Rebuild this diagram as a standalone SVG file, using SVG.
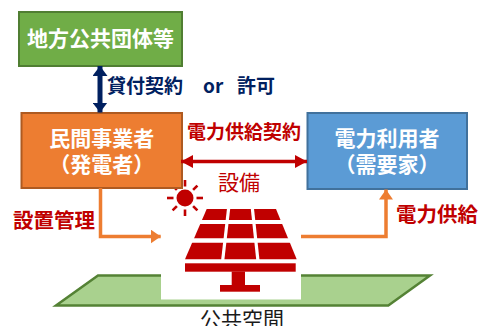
<svg xmlns="http://www.w3.org/2000/svg" width="482" height="326" viewBox="0 0 482 326">
  <defs>
    <style>
      text { font-family: "Noto Sans CJK JP", "Noto Sans", sans-serif; }
      .box-label { fill: #ffffff; font-weight: bold; font-size: 21px; text-anchor: middle; }
      .red-bold { fill: #c00000; font-weight: bold; }
      .navy-bold { fill: #002060; font-weight: bold; font-size: 19px; }
      .flow { fill: none; stroke: #ed7d31; stroke-width: 3.5; }
    </style>
    <marker id="head-orange" viewBox="0 0 10 14" refX="10" refY="7" markerWidth="10" markerHeight="14" markerUnits="userSpaceOnUse" orient="auto">
      <path d="M0,0 L10,7 L0,14 Z" fill="#ed7d31"/>
    </marker>
    <marker id="head-red" viewBox="0 0 12 13" refX="12" refY="6.5" markerWidth="12" markerHeight="13" markerUnits="userSpaceOnUse" orient="auto-start-reverse">
      <path d="M0,0 L12,6.5 L0,13 Z" fill="#c00000"/>
    </marker>
    <marker id="head-navy" viewBox="0 0 10 15" refX="10" refY="7.5" markerWidth="10" markerHeight="15" markerUnits="userSpaceOnUse" orient="auto-start-reverse">
      <path d="M0,0 L10,7.5 L0,15 Z" fill="#002060"/>
    </marker>
  </defs>

  <rect width="482" height="326" fill="#ffffff"/>

  <!-- public space (ground) -->
  <g id="public-space">
    <polygon points="98,275.5 430,275.5 388.3,305.5 56,305.5" fill="#a9d18e" stroke="#548235" stroke-width="2.5"/>
    <text x="242" y="327" font-size="21" text-anchor="middle" fill="#1a1a1a">公共空間</text>
  </g>

  <!-- solar equipment -->
  <g id="equipment">
    <rect x="161" y="200" width="140" height="99.5" fill="#ffffff"/>
    <!-- panel -->
    <polygon points="206.7,209 276,209 296.7,259.3 185,259.3" fill="#c00000"/>
    <g stroke="#ffffff" fill="none">
      <line x1="180" y1="222" x2="302" y2="222" stroke-width="4"/>
      <line x1="180" y1="240.5" x2="302" y2="240.5" stroke-width="4.4"/>
      <line x1="229" y1="205" x2="222.4" y2="263" stroke-width="3.2"/>
      <line x1="252" y1="205" x2="258.2" y2="263" stroke-width="3.2"/>
    </g>
    <!-- stand -->
    <rect x="185" y="263.3" width="110.7" height="8.4" fill="#c00000"/>
    <rect x="231.7" y="271.5" width="13.3" height="14" fill="#c00000"/>
    <rect x="220" y="285" width="40" height="6.7" fill="#c00000"/>
    <!-- sun -->
    <g transform="translate(185,198)" fill="#c00000" stroke="#c00000">
      <circle r="8.5" stroke="none"/>
      <g stroke-width="2.6">
        <line x1="0" y1="-11.5" x2="0" y2="-18"/>
        <line x1="0" y1="11.5" x2="0" y2="18"/>
        <line x1="-11.5" y1="0" x2="-18" y2="0"/>
        <line x1="11.5" y1="0" x2="18" y2="0"/>
        <line x1="8.1" y1="-8.1" x2="12.4" y2="-12.4"/>
        <line x1="-8.1" y1="-8.1" x2="-12.4" y2="-12.4"/>
        <line x1="8.1" y1="8.1" x2="12.4" y2="12.4"/>
        <line x1="-8.1" y1="8.1" x2="-12.4" y2="12.4"/>
      </g>
    </g>
    <text x="239" y="189.5" font-size="21" text-anchor="middle" fill="#c00000">設備</text>
  </g>

  <!-- local government -->
  <g id="local-government">
    <rect x="19" y="12" width="163" height="54" fill="#70ad47" stroke="#507e32" stroke-width="2"/>
    <text class="box-label" x="100.5" y="45.5">地方公共団体等</text>
  </g>

  <!-- private operator (generator) -->
  <g id="operator">
    <rect x="21.5" y="113" width="160.5" height="75" fill="#ed7d31" stroke="#ae5a21" stroke-width="2"/>
    <text class="box-label" x="101.7" y="145.5">民間事業者</text>
    <text class="box-label" x="101.7" y="172">（発電者）</text>
  </g>

  <!-- power consumer -->
  <g id="consumer">
    <rect x="307.5" y="113" width="159.5" height="76" fill="#5b9bd5" stroke="#41719c" stroke-width="2"/>
    <text class="box-label" x="387" y="145.5">電力利用者</text>
    <text class="box-label" x="387" y="172">（需要家）</text>
  </g>

  <!-- connectors -->
  <g id="connectors">
    <!-- lease contract or permission -->
    <line x1="100" y1="66" x2="100" y2="112.5" stroke="#002060" stroke-width="5" marker-start="url(#head-navy)" marker-end="url(#head-navy)"/>
    <text class="navy-bold" y="93"><tspan x="107">貸付契約</tspan><tspan x="203">or</tspan><tspan x="237">許可</tspan></text>

    <!-- power supply contract -->
    <line x1="181" y1="161.5" x2="307" y2="161.5" stroke="#c00000" stroke-width="3.4" marker-start="url(#head-red)" marker-end="url(#head-red)"/>
    <text class="red-bold" x="244" y="139" font-size="19" text-anchor="middle">電力供給契約</text>

    <!-- installation and management -->
    <polyline class="flow" points="100.5,188 100.5,236.5 160.7,236.5" marker-end="url(#head-orange)"/>
    <text class="red-bold" x="54" y="228" font-size="20.5" text-anchor="middle">設置管理</text>

    <!-- power supply -->
    <polyline class="flow" points="301,236.5 386,236.5 386,189.5" marker-end="url(#head-orange)"/>
    <text class="red-bold" x="437" y="222" font-size="20.5" text-anchor="middle">電力供給</text>
  </g>
</svg>
